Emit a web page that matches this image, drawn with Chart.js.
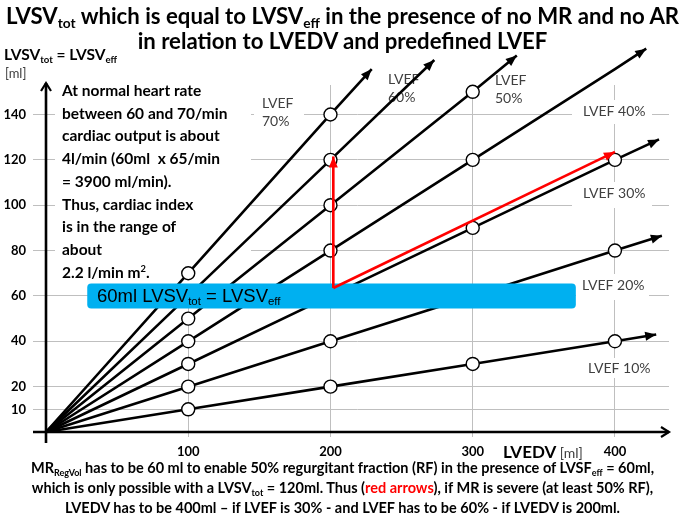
<!DOCTYPE html>
<html>
<head>
<meta charset="utf-8">
<script src="https://cdn.jsdelivr.net/npm/chart.js@4.4.1/dist/chart.umd.min.js"></script>
<style>
  body { margin: 0; background: #fff; width: 685px; height: 515px; overflow: hidden; position: relative; font-family: Lato, "Open Sans", sans-serif; }
  canvas { position: absolute; left: 0; top: 0; }
  .t { position: absolute; white-space: nowrap; color: #000; }
  .b { font-weight: bold; }
  sub { font-size: 0.62em; vertical-align: -0.3em; line-height: 0; }
  #title { left: 0; width: 685px; text-align: center; top: 3px; font-size: 22.2px; line-height: 25px; font-weight: bold; }
  #note { left: 62px; top: 79px; font-size: 15.5px; line-height: 22.7px; font-weight: bold; }
  #caption { left: 0; width: 685px; text-align: center; top: 458px; font-size: 14.5px; line-height: 20px; font-weight: bold; }
  #barText { left: 97px; top: 284px; font-family: "Liberation Sans", Arial, sans-serif; font-size: 18.5px; line-height: 24px; }
</style>
</head>
<body>
<canvas id="chart" width="685" height="515"></canvas>

<div class="t" id="title">LVSV<sub>tot</sub> which is equal to LVSV<sub>eff</sub> in the presence of no MR and no AR<br>in relation to LVEDV and predefined LVEF</div>
<div class="t b" style="left:4px;top:45px;font-size:15.5px;">LVSV<sub>tot</sub> = LVSV<sub>eff</sub></div>
<div class="t" style="left:5px;top:65px;font-size:13px;color:#404040;">[ml]</div>
<div class="t" id="note">At normal heart rate<br>between 60 and 70/min<br>cardiac output is about<br>4l/min (60ml&nbsp; x 65/min<br>= 3900 ml/min).<br>Thus, cardiac index<br>is in the range of<br>about<br>2.2 l/min m<sup style="font-size:0.6em;vertical-align:0.6em;line-height:0">2</sup>.</div>
<div class="t" id="barText">60ml LVSV<sub>tot</sub> = LVSV<sub>eff</sub></div>
<div class="t" style="left:503px;top:441px;font-size:17px;font-weight:bold;">LVEDV <span style="font-weight:normal;font-size:14px;color:#404040;">[ml]</span></div>
<div class="t" id="caption">MR<sub>RegVol</sub> has to be 60 ml to enable 50% regurgitant fraction (RF) in the presence of LVSF<sub>eff</sub> = 60ml,<br>which is only possible with a LVSV<sub>tot</sub> = 120ml. Thus (<span style="color:#ff0000">red arrows</span>), if MR is severe (at least 50% RF),<br>LVEDV has to be 400ml – if LVEF is 30% - and LVEF has to be 60% - if LVEDV is 200ml.</div>

<script>
// axis ticks
const lvedvTicks = [100, 200, 300, 400];
const svTicks = [10, 20, 40, 60, 80, 100, 120, 140];

// lines for each LVEF: origin, marked points, arrow tip
const ef70x = [0, 100, 200, 229];
const ef70y = [0, 70, 140, 160];
const ef60x = [0, 100, 200, 273];
const ef60y = [0, 60, 120, 164];
const ef50x = [0, 100, 200, 300, 331];
const ef50y = [0, 50, 100, 150, 166];
const ef40x = [0, 100, 200, 300, 400, 422];
const ef40y = [0, 40, 80, 120, 160, 169];
const ef30x = [0, 100, 200, 300, 400, 431];
const ef30y = [0, 30, 60, 90, 120, 129];
const ef20x = [0, 100, 200, 300, 400, 433];
const ef20y = [0, 20, 40, 60, 80, 86.5];
const ef10x = [0, 100, 200, 300, 400, 429];
const ef10y = [0, 10, 20, 30, 40, 43];

// red arrows
const redUpX = [202, 202];
const redUpY = [63.5, 121.5];
const redDiagX = [202, 400];
const redDiagY = [63.5, 123.5];

// blue band 60ml
const bandX = [29, 372.5];
const bandY = [54.5, 65.5];

function pts(xs, ys) {
  return xs.map((x, i) => ({ x: x, y: ys[i] }));
}

function blackLine(xs, ys) {
  return {
    data: pts(xs, ys),
    borderColor: '#000',
    borderWidth: 2.6,
    pointRadius: ctx => (ctx.dataIndex === 0 || ctx.dataIndex === xs.length - 1) ? 0 : 6.5,
    pointBackgroundColor: '#fff',
    pointBorderColor: '#000',
    pointBorderWidth: 1.4,
    clip: false,
    arrow: '#000'
  };
}

function redLine(xs, ys) {
  return {
    data: pts(xs, ys),
    borderColor: '#ff0000',
    borderWidth: 2.6,
    pointRadius: 0,
    clip: false,
    arrow: '#ff0000'
  };
}

const lveflabels = [
  { lines: ['LVEF', '70%'], x: 262, y: 103, bg: [254, 92, 50, 38] },
  { lines: ['LVEF', '60%'], x: 388, y: 79, bg: null },
  { lines: ['LVEF', '50%'], x: 495, y: 80, bg: null },
  { lines: ['LVEF 40%'], x: 583, y: 111, bg: [572, 100, 80, 24] },
  { lines: ['LVEF 30%'], x: 583, y: 193, bg: [572, 182, 80, 26] },
  { lines: ['LVEF 20%'], x: 582, y: 285, bg: [576, 274, 73, 26] },
  { lines: ['LVEF 10%'], x: 588, y: 368, bg: [580, 358, 72, 20] }
];

function arrowHead(c, x0, y0, x1, y1, color, len, half) {
  const a = Math.atan2(y1 - y0, x1 - x0);
  c.save();
  c.fillStyle = color;
  c.beginPath();
  c.moveTo(x1, y1);
  c.lineTo(x1 - len * Math.cos(a) + half * Math.sin(a), y1 - len * Math.sin(a) - half * Math.cos(a));
  c.lineTo(x1 - len * Math.cos(a) - half * Math.sin(a), y1 - len * Math.sin(a) + half * Math.cos(a));
  c.closePath();
  c.fill();
  c.restore();
}

const decor = {
  id: 'decor',
  beforeDatasetsDraw(chart) {
    const c = chart.ctx;
    const xs = chart.scales.x, ys = chart.scales.y;
    c.save();
    // white box behind the note text
    c.fillStyle = '#fff';
    c.fillRect(55, 80, 196, 204);
    // LVEF labels
    c.font = '14px Lato, "Open Sans", sans-serif';
    c.textBaseline = 'middle';
    lveflabels.forEach(l => {
      if (l.bg) {
        c.fillStyle = '#fff';
        c.fillRect(l.bg[0], l.bg[1], l.bg[2], l.bg[3]);
      }
      c.fillStyle = '#404040';
      l.lines.forEach((s, i) => c.fillText(s, l.x, l.y + i * 18));
    });
    // axes
    const ox = xs.getPixelForValue(0), oy = ys.getPixelForValue(0);
    const xEnd = xs.right, yEnd = ys.top - 2;
    c.strokeStyle = '#000';
    c.lineWidth = 2.6;
    c.beginPath();
    c.moveTo(33, oy); c.lineTo(xEnd, oy);
    c.moveTo(ox, oy + 11); c.lineTo(ox, yEnd);
    c.stroke();
    c.lineWidth = 2.2;
    c.beginPath();
    c.moveTo(xEnd - 8, oy - 5); c.lineTo(xEnd, oy); c.lineTo(xEnd - 8, oy + 5);
    c.moveTo(ox - 5, yEnd + 8); c.lineTo(ox, yEnd); c.lineTo(ox + 5, yEnd + 8);
    c.stroke();
    c.restore();
  },
  beforeDatasetDraw(chart, args) {
    if (args.index !== 1) return;
    const c = chart.ctx;
    const xs = chart.scales.x, ys = chart.scales.y;
    const l = xs.getPixelForValue(bandX[0]), r = xs.getPixelForValue(bandX[1]);
    const t = ys.getPixelForValue(bandY[1]), b = ys.getPixelForValue(bandY[0]);
    c.save();
    c.fillStyle = '#00b0f0';
    c.beginPath();
    c.roundRect(l, t, r - l, b - t, 4);
    c.fill();
    c.restore();
  },
  afterDatasetsDraw(chart) {
    const c = chart.ctx;
    chart.data.datasets.forEach((ds, i) => {
      const pts = chart.getDatasetMeta(i).data;
      const p0 = pts[pts.length - 2], p1 = pts[pts.length - 1];
      arrowHead(c, p0.x, p0.y, p1.x, p1.y, ds.arrow, 11, 4.5);
    });
  }
};

new Chart(document.getElementById('chart'), {
  type: 'line',
  data: {
    datasets: [
      redLine(redUpX, redUpY),
      redLine(redDiagX, redDiagY),
      blackLine(ef70x, ef70y),
      blackLine(ef60x, ef60y),
      blackLine(ef50x, ef50y),
      blackLine(ef40x, ef40y),
      blackLine(ef30x, ef30y),
      blackLine(ef20x, ef20y),
      blackLine(ef10x, ef10y)
    ]
  },
  options: {
    responsive: false,
    animation: false,
    devicePixelRatio: 1,
    layout: { padding: { left: 0, right: 16, top: 85, bottom: 0 } },
    plugins: { legend: { display: false }, tooltip: { enabled: false } },
    elements: { line: { tension: 0 } },
    scales: {
      x: {
        type: 'linear', min: 0, max: 438,
        afterBuildTicks: s => { s.ticks = lvedvTicks.map(v => ({ value: v })); },
        afterFit: s => { s.height = 83; },
        grid: { color: '#bfbfbf', lineWidth: 1, tickLength: 5, drawTicks: true },
        border: { display: false },
        ticks: { color: '#000', padding: 7, font: { family: 'Lato', size: 13, weight: 'bold' } }
      },
      y: {
        min: 0, max: 153,
        afterBuildTicks: s => { s.ticks = svTicks.map(v => ({ value: v })); },
        afterFit: s => { s.width = 46; },
        grid: { color: '#bfbfbf', lineWidth: 1, tickLength: 13 },
        border: { display: false },
        ticks: { color: '#000', padding: 7, font: { family: 'Lato', size: 13, weight: 'bold' } }
      }
    }
  },
  plugins: [decor]
});
</script>
</body>
</html>
